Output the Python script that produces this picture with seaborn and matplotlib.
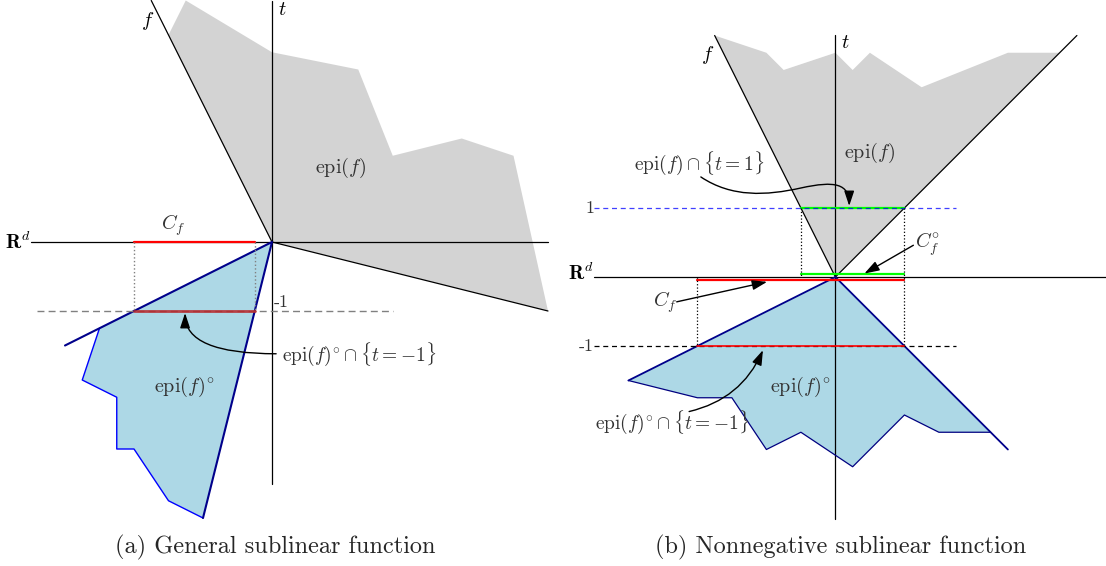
import numpy as np
import seaborn as sns
import matplotlib.pyplot as plt
from matplotlib.patches import FancyArrowPatch
from matplotlib.path import Path

sns.set_theme(style="white")
plt.rcParams['font.family'] = ['cmr10', 'DejaVu Serif']
plt.rcParams['mathtext.fontset'] = 'cm'
plt.rcParams['axes.formatter.use_mathtext'] = True

# coordinates in units where the level sets sit at t = +1 / -1
# (a) general sublinear function
a_graph_x = [-1.75, 0, 4]
a_graph_y = [3.5, 0, -1]
a_epi_x = [-1.5, -1.25, 0, 1.25, 1.75, 2.75, 3.5, 4, 0]
a_epi_y = [3, 3.5, 2.75, 2.5, 1.25, 1.5, 1.25, -1, 0]
a_polar_x = [0, -2.5, -2.75, -2.25, -2.25, -2, -1.5, -1]
a_polar_y = [0, -1.25, -2, -2.25, -3, -3, -3.75, -4]
a_cone_x = [-3, 0, -1]
a_cone_y = [-1.5, 0, -4]
a_cf = [-2, -0.25]

# (b) nonnegative sublinear function
b_graph_x = [-1.75, 0, 3.5]
b_graph_y = [3.5, 0, 3.5]
b_epi_x = [-1.75, -1, -0.75, 0, 0.25, 0.5, 1.25, 2.5, 3.25, 0]
b_epi_y = [3.5, 3.25, 3, 3.25, 3, 3.25, 2.75, 3.25, 3.25, 0]
b_polar_x = [0, -3, -2, -1.5, -1, -0.5, 0.25, 1, 1.5, 2.25]
b_polar_y = [0, -1.5, -1.75, -1.75, -2.5, -2.25, -2.75, -2, -2.25, -2.25]
b_cone_x = [-3, 0, 2.5]
b_cone_y = [-1.5, 0, -2.5]
b_cf = [-2, 1]
b_cf_polar = [-0.5, 1]

captions = ["(a) General sublinear function", "(b) Nonnegative sublinear function"]

W, H, U = 1106, 566, 69.0  # figure pixels, pixels per unit
TXT = '0.2'
FS = 14.5


def line(ax, xs, ys, **kw):
    sns.lineplot(x=xs, y=ys, sort=False, estimator=None, ax=ax, **kw)


def panel(left_px, origin):
    ox, oy = origin
    ax = fig.add_axes([left_px / W, 0, (W / 2) / W, 1])
    ax.set_xlim((left_px - ox) / U, (left_px + W / 2 - ox) / U)
    ax.set_ylim(-(H - oy) / U, oy / U)
    ax.set_axis_off()
    return ax


def style_arrow(arr, ax):
    arr.set_arrowstyle('-|>', head_length=0.9, head_width=0.3)
    arr.set_mutation_scale(10)
    arr.set_color('black')
    arr.set_linewidth(1.0)
    arr.set_zorder(6)
    ax.add_patch(arr)


fig = plt.figure(figsize=(W / 100, H / 100), dpi=100)

# ---------------- panel (a) ----------------
ax = panel(0, (272, 242))
ax.fill(a_epi_x, a_epi_y, color='lightgray', lw=0, zorder=1)
ax.fill(a_polar_x, a_polar_y, color='lightblue', lw=0, zorder=1)
line(ax, [-3.5, 4], [0, 0], color='black', lw=0.9)
line(ax, [0, 0], [3.5, -3.5], color='black', lw=0.9)
line(ax, a_graph_x, a_graph_y, color='black', lw=0.9)
line(ax, a_polar_x[1:], a_polar_y[1:], color='blue', lw=1.0)
line(ax, a_cone_x, a_cone_y, color='darkblue', lw=1.5)
ax.plot([-3.4, 1.75], [-1, -1], color='gray', lw=1.0, ls=(0, (5, 3)), zorder=3)
for xv in a_cf:
    ax.plot([xv, xv], [0, -1], color='gray', lw=1.0, ls=':', zorder=3)
line(ax, a_cf, [0, 0], color='red', lw=1.6)
ax.plot(a_cf, [-1, -1], color='#b8262a', lw=2.0, alpha=0.85, zorder=4)

ax.text(-3.5, 0, r'$\mathbf{R}^d$', ha='right', va='center', fontsize=FS, color='black')
ax.text(0.08, 3.36, r'$t$', fontsize=FS, va='center', color='black')
ax.text(-1.7, 3.2, r'$f$', fontsize=FS, ha='right', va='center', color='black')
ax.text(-1.43, 0.06, r'$C_f$', ha='center', va='bottom', fontsize=FS, color=TXT)
ax.text(1.0, 1.07, r'$\mathrm{epi}(f)$', ha='center', va='center', fontsize=FS, color=TXT)
ax.text(0.03, -0.87, '-1', ha='left', va='center', fontsize=13, color=TXT)
ax.text(-1.28, -2.1, r'$\mathrm{epi}(f)^{\circ}$', ha='center', va='center', fontsize=FS, color=TXT)
ax.text(0.15, -1.62, r'$\mathrm{epi}(f)^{\circ}\cap\{t=-1\}$', ha='left', va='center',
        fontsize=FS - 0.5, color=TXT)
style_arrow(FancyArrowPatch((0.06, -1.62), (-1.26, -1.03),
                            connectionstyle='angle3,angleA=0,angleB=90',
                            shrinkA=0, shrinkB=0), ax)

# ---------------- panel (b) ----------------
ax = panel(W / 2, (835.4, 277))
ax.fill(b_graph_x[:1] + b_epi_x, b_graph_y[:1] + b_epi_y, color='lightgray', lw=0, zorder=1)
ax.fill(b_polar_x, b_polar_y, color='lightblue', lw=0, zorder=1)
line(ax, [-3.5, 4], [0, 0], color='black', lw=0.9)
line(ax, [0, 0], [3.5, -3.5], color='black', lw=0.9)
line(ax, b_graph_x, b_graph_y, color='black', lw=0.9)
line(ax, b_polar_x[1:] + [2.25], b_polar_y[1:] + [-2.25], color='navy', lw=0.9)
line(ax, b_cone_x, b_cone_y, color='darkblue', lw=1.3)
ax.plot([-3.5, 1.75], [1, 1], color='blue', alpha=0.75, lw=0.9, ls=(0, (4, 3)), zorder=3)
ax.plot([-3.5, 1.75], [-1, -1], color='black', lw=0.9, ls=(0, (4, 3)), zorder=3)
ax.plot([-0.5, -0.5], [1, 0], color='black', lw=0.9, ls=':', zorder=3)
ax.plot([1, 1], [1, -1], color='black', lw=0.9, ls=':', zorder=3)
ax.plot([-2, -2], [0, -1], color='black', lw=0.9, ls=':', zorder=3)
line(ax, b_cf_polar, [1, 1], color='lime', lw=1.6)
line(ax, b_cf_polar, [0.05, 0.05], color='lime', lw=1.6)
line(ax, b_cf, [-0.05, -0.05], color='red', lw=1.6)
ax.plot(b_cf, [-1, -1], color='red', lw=1.2, zorder=4)

ax.text(-3.5, 0.06, r'$\mathbf{R}^d$', ha='right', va='center', fontsize=FS, color='black')
ax.text(0.08, 3.39, r'$t$', fontsize=FS, va='center', color='black')
ax.text(-1.75, 3.22, r'$f$', fontsize=FS, ha='right', va='center', color='black')
ax.text(-3.5, 1, '1', ha='right', va='center', fontsize=13, color=TXT)
ax.text(-3.5, -1, '-1', ha='right', va='center', fontsize=13, color=TXT)
ax.text(0.5, 1.8, r'$\mathrm{epi}(f)$', ha='center', va='center', fontsize=FS, color=TXT)
ax.text(-1.98, 1.65, r'$\mathrm{epi}(f)\cap\{t=1\}$', ha='center', va='center',
        fontsize=FS - 0.5, color=TXT)
ax.text(1.15, 0.47, r'$C_f^{\circ}$', ha='left', va='center', fontsize=FS, color=TXT)
ax.text(-2.47, -0.36, r'$C_f$', ha='center', va='center', fontsize=FS, color=TXT)
ax.text(-0.51, -1.59, r'$\mathrm{epi}(f)^{\circ}$', ha='center', va='center', fontsize=FS, color=TXT)
ax.text(-2.37, -2.1, r'$\mathrm{epi}(f)^{\circ}\cap\{t=-1\}$', ha='center', va='center',
        fontsize=FS - 0.5, color=TXT)

wave = Path([(-1.95, 1.45), (-1.5, 1.15), (-1.0, 1.18), (-0.5, 1.29),
             (0.0, 1.40), (0.2, 1.35), (0.2, 1.03)],
            [Path.MOVETO] + [Path.CURVE4] * 6)
for arr in [
    FancyArrowPatch(path=wave),
    FancyArrowPatch((1.13, 0.46), (0.42, 0.05), shrinkA=0, shrinkB=0),
    FancyArrowPatch((-2.3, -0.36), (-0.99, -0.07), shrinkA=0, shrinkB=0),
    FancyArrowPatch((-2.12, -1.95), (-1.05, -1.06), connectionstyle='arc3,rad=0.25',
                    shrinkA=0, shrinkB=0),
]:
    style_arrow(arr, ax)

fig.text(275 / W, 1 - 547 / H, captions[0], ha='center', va='center', fontsize=17.5)
fig.text(841 / W, 1 - 547 / H, captions[1], ha='center', va='center', fontsize=17.5)

fig.savefig('out.png', dpi=100)
